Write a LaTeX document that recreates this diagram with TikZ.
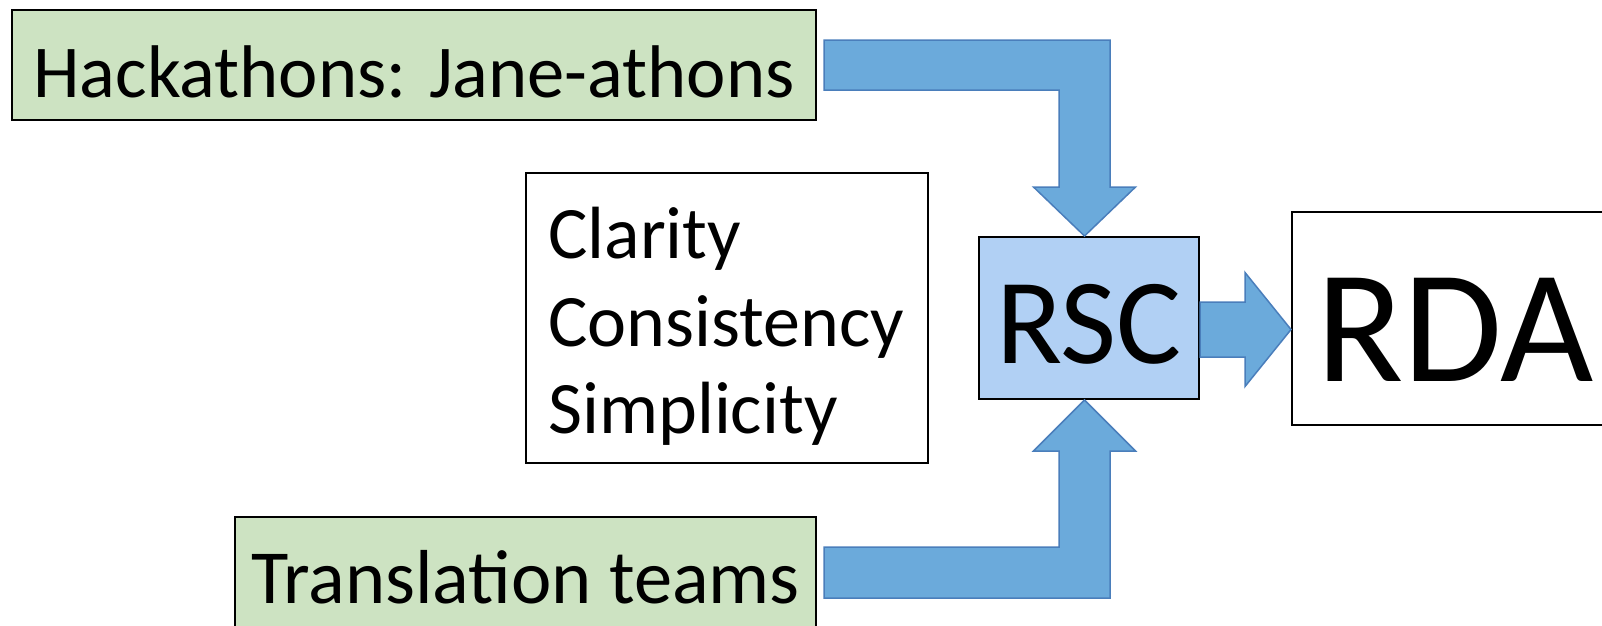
\documentclass[tikz,border=0pt]{standalone}
\usepackage{fontspec}
\setmainfont{Carlito}
\usetikzlibrary{calc}
\definecolor{boxgreen}{RGB}{205,227,194}
\definecolor{arrowfill}{RGB}{107,170,219}
\definecolor{arrowdraw}{RGB}{74,126,187}
\definecolor{rscfill}{RGB}{177,208,244}
\begin{document}
\begin{tikzpicture}[x=1pt,y=-1pt,
  box/.style={draw=black, line width=2pt, inner sep=0pt, text depth=0pt},
  blockarrow/.style={fill=arrowfill, draw=arrowdraw, line width=1.5pt, line join=miter},
  valtext/.style={font=\fontsize{74}{89}\selectfont, anchor=base west, inner sep=0pt}
]
\useasboundingbox (0,0) rectangle (1602,625);
\clip (0,0) rectangle (1602,625);

% boxes
\node[box, fill=boxgreen, minimum width=804pt, minimum height=110pt, text height=64pt, font=\fontsize{74.6}{90}\selectfont] (hack) at (414,65) {Hackathons: Jane-athons};
\node[box, fill=boxgreen, minimum width=581pt, minimum height=110pt, text height=62pt, font=\fontsize{76.5}{92}\selectfont] (trans) at (525.5,572) {Translation teams};
\node[box, fill=white, minimum width=402pt, minimum height=290pt] (values) at (727,318) {};
\node[valtext] (clarity) at (548,258) {Clarity};
\node[valtext] (consistency) at (548,346) {Consistency};
\node[valtext] (simplicity) at (548,433) {Simplicity};
\node[box, fill=rscfill, minimum width=220pt, minimum height=162pt, text height=90pt, font=\fontsize{122}{146}\selectfont] (rsc) at (1089,318) {RSC};
\node[box, fill=white, minimum width=326pt, minimum height=213pt, text height=126pt, font=\fontsize{161}{193}\selectfont] (rda) at (1455,318.5) {RDA};

% top block arrow: Hackathons -> RSC
\coordinate (ta) at ($(hack.east)+(7,-25)$);
\coordinate (tb) at ($(hack.east)+(7,25)$);
\coordinate (ttip) at ($(rsc.north)+(-4.5,0)$);
\coordinate (tr) at ($(ttip)+(25.5,-49)$);
\coordinate (tl) at ($(ttip)+(-25.5,-49)$);
\draw[blockarrow] (ta) -- (ta -| tr) -- (tr) -- ($(tr)+(25.5,0)$) -- (ttip) -- ($(tl)+(-25.5,0)$) -- (tl) -- (tl |- tb) -- (tb) -- cycle;

% bottom block arrow: Translation teams -> RSC
\coordinate (ba) at ($(trans.east)+(7,-25)$);
\coordinate (bb) at ($(trans.east)+(7,26)$);
\coordinate (btip) at ($(rsc.south)+(-4.5,0)$);
\coordinate (br) at ($(btip)+(25.5,51)$);
\coordinate (bl) at ($(btip)+(-25.5,51)$);
\draw[blockarrow] (bb) -- (bb -| br) -- (br) -- ($(br)+(25.5,0)$) -- (btip) -- ($(bl)+(-25.5,0)$) -- (bl) -- (bl |- ba) -- (ba) -- cycle;

% right block arrow: RSC -> RDA
\coordinate (rtip) at ($(rda.west)+(0,11)$);
\coordinate (rs) at ($(rtip)+(-46,0)$);
\coordinate (rs1) at ($(rs)+(0,-27.5)$);
\coordinate (rs2) at ($(rs)+(0,27.5)$);
\draw[blockarrow] (rs1 -| rsc.east) -- (rs1) -- ($(rs)+(0,-57)$) -- (rtip) -- ($(rs)+(0,57)$) -- (rs2) -- (rs2 -| rsc.east) -- cycle;
\end{tikzpicture}
\end{document}
